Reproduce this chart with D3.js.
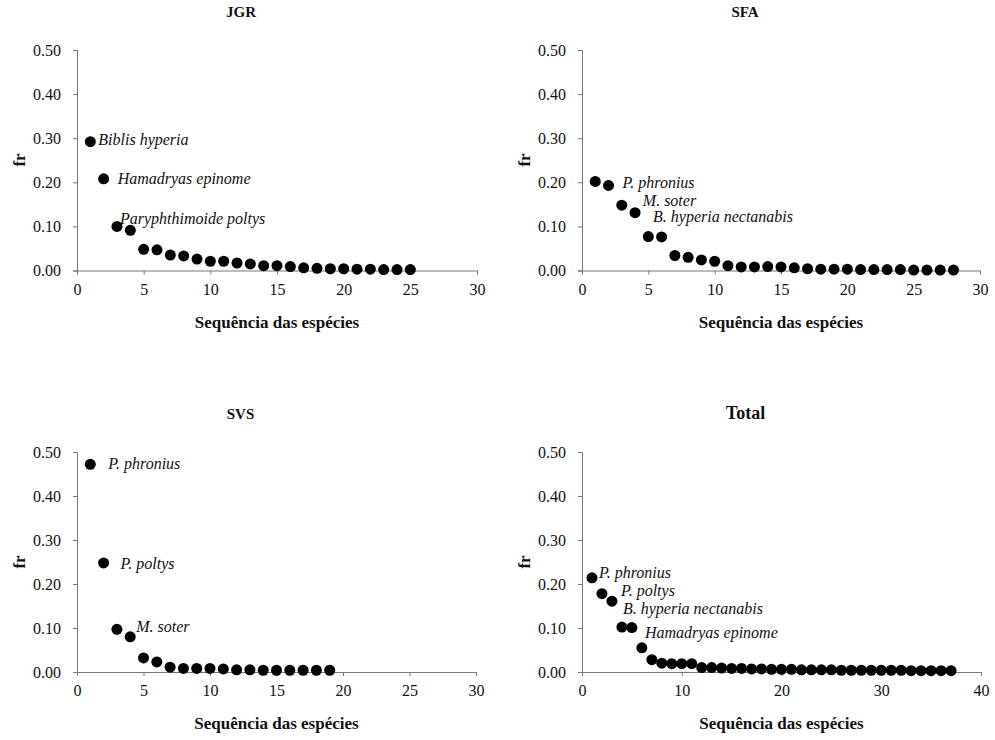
<!DOCTYPE html>
<html>
<head>
<meta charset="utf-8">
<script src="https://cdn.jsdelivr.net/npm/d3@7"></script>
<style>
  body { margin: 0; background: white; }
  svg text { fill: #111; }
  .tick text { font-size: 16px; }
  .domain, .tick line { stroke: #777; stroke-width: 1; }
  .title { font-weight: bold; font-size: 15px; }
  .axisTitle { font-weight: bold; font-size: 17px; }
  .sp { font-style: italic; font-size: 16px; }
</style>
</head>
<body>
<svg id="chart" width="995" height="740"></svg>
<script>
// frequency of each species, in rank order
const jgrValues = [0.292, 0.208, 0.100, 0.091, 0.048, 0.047, 0.035, 0.033, 0.026, 0.021, 0.021, 0.017, 0.015,
  0.011, 0.011, 0.009, 0.006, 0.005, 0.004, 0.004, 0.003, 0.003, 0.002, 0.002, 0.002];
const sfaValues = [0.202, 0.193, 0.148, 0.131, 0.077, 0.076, 0.034, 0.030, 0.024, 0.021, 0.011, 0.008, 0.008,
  0.009, 0.008, 0.006, 0.004, 0.003, 0.003, 0.003, 0.002, 0.002, 0.002, 0.002, 0.001, 0.001, 0.001, 0.001];
const svsValues = [0.472, 0.248, 0.097, 0.080, 0.032, 0.023, 0.011, 0.008, 0.008, 0.008, 0.007, 0.005, 0.005,
  0.004, 0.004, 0.004, 0.004, 0.004, 0.004];
const totalValues = [0.214, 0.178, 0.161, 0.102, 0.101, 0.055, 0.028, 0.020, 0.019, 0.019, 0.019, 0.010, 0.010,
  0.009, 0.008, 0.008, 0.007, 0.007, 0.006, 0.006, 0.006, 0.005, 0.005, 0.005, 0.005, 0.004, 0.004, 0.004,
  0.004, 0.004, 0.004, 0.004, 0.003, 0.003, 0.003, 0.003, 0.003];

// labelled species: [rank, name]
const jgrLabels = [[1, "Biblis hyperia"], [2, "Hamadryas epinome"], [3, "Paryphthimoide poltys"]];
const sfaLabels = [[2, "P. phronius"], [3, "M. soter"], [4, "B. hyperia nectanabis"]];
const svsLabels = [[1, "P. phronius"], [2, "P. poltys"], [4, "M. soter"]];
const totalLabels = [[1, "P. phronius"], [3, "P. poltys"], [3, "B. hyperia nectanabis"], [5, "Hamadryas epinome"]];

const yTicks = [0, 0.1, 0.2, 0.3, 0.4, 0.5];
const xTicks30 = [0, 5, 10, 15, 20, 25, 30];
const xTicks40 = [0, 10, 20, 30, 40];

const serif = "'Liberation Serif', 'Times New Roman', Times, 'DejaVu Serif', serif";
const svg = d3.select("svg#chart");

function drawPanel(p) {
  const x = d3.scaleLinear().domain([0, p.xMax]).range([p.left, p.right]);
  const y = d3.scaleLinear().domain([0, 0.5]).range([p.bottom, p.top]);
  const g = svg.append("g");

  g.append("g").attr("transform", "translate(0," + p.bottom + ")")
    .call(d3.axisBottom(x).tickValues(p.xTicks).tickSize(4).tickPadding(9).tickFormat(d3.format("d")));
  g.append("g").attr("transform", "translate(" + p.left + ",0)")
    .call(d3.axisLeft(y).tickValues(yTicks).tickSize(4).tickPadding(12).tickFormat(d3.format(".2f")));

  g.append("text").attr("class", "title").attr("x", (p.left + p.right) / 2 - 36).attr("y", p.top - 33)
    .attr("text-anchor", "middle").style("font-size", p.titleSize + "px").text(p.title);
  g.append("text").attr("class", "axisTitle").attr("x", (p.left + p.right) / 2).attr("y", p.bottom + 57)
    .attr("text-anchor", "middle").text("Sequência das espécies");
  g.append("text").attr("class", "axisTitle").attr("transform", "translate(" + (p.left - 52) + "," + (p.top + 110) + ") rotate(-90)")
    .attr("text-anchor", "middle").text("fr");

  g.selectAll("circle").data(p.values).join("circle")
    .attr("cx", (d, i) => x(i + 1)).attr("cy", d => y(d)).attr("r", 5.5).attr("fill", "#000");

  g.selectAll("text.sp").data(p.labels).join("text").attr("class", "sp")
    .attr("x", (d, i) => x(d[0]) + p.offsets[i][0])
    .attr("y", (d, i) => y(p.values[d[0] - 1]) + p.offsets[i][1])
    .text(d => d[1]);

  g.selectAll("text").style("font-family", serif);
}

drawPanel({ title: "JGR", titleSize: 15, values: jgrValues, labels: jgrLabels, xMax: 30, xTicks: xTicks30,
  left: 77, right: 477, top: 50, bottom: 270.5, offsets: [[8, 3], [14, 5], [3, -2]] });
drawPanel({ title: "SFA", titleSize: 15, values: sfaValues, labels: sfaLabels, xMax: 30, xTicks: xTicks30,
  left: 582, right: 980, top: 50, bottom: 270.5, offsets: [[14, 3], [21, 1], [18, 9]] });
drawPanel({ title: "SVS", titleSize: 15, values: svsValues, labels: svsLabels, xMax: 30, xTicks: xTicks30,
  left: 77, right: 476, top: 452, bottom: 672, offsets: [[18, 5], [17, 6], [6, -5]] });
drawPanel({ title: "Total", titleSize: 18, values: totalValues, labels: totalLabels, xMax: 40, xTicks: xTicks40,
  left: 582, right: 981, top: 452, bottom: 672, offsets: [[7, 0], [9, -5], [11, 13], [13, 10]] });
</script>
</body>
</html>
